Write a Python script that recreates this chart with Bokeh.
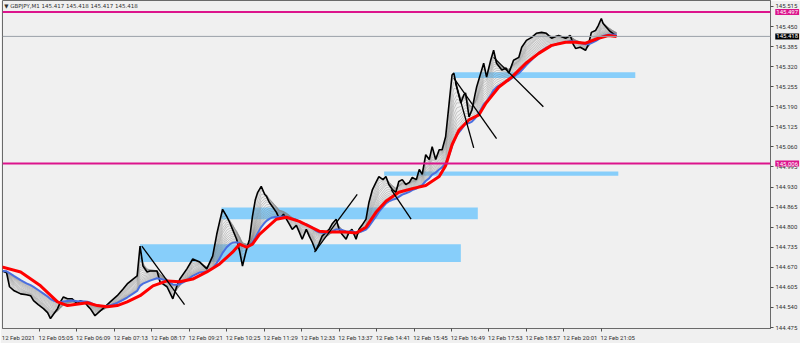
import numpy as np
from bokeh.plotting import figure
from bokeh.layouts import row
from bokeh.models import Range1d, LinearAxis, FixedTicker, Span, Label, NumeralTickFormatter
from bokeh.embed import file_html
from bokeh.resources import INLINE

# ---------------- data (minutes after 12 Feb 04:01, price) ----------------
price_time = [1, 8, 13, 21, 32, 42, 49, 54, 62, 71, 78, 83, 90, 95, 100, 105, 112, 120, 129, 134,
              142, 146, 151, 159, 168, 176, 185, 197, 207, 214, 224, 231, 236, 241, 248, 253, 265, 270, 282, 292,
              299, 304, 316, 326, 338, 350, 360, 367, 372, 377, 384, 389, 394, 401, 406, 411, 418, 423, 428, 433,
              437, 443, 449, 452, 457, 462, 469, 474, 481, 486, 491, 496, 503, 508, 513, 520, 525, 530, 536, 542,
              547, 554, 559, 564, 571, 576, 581, 588, 593, 598, 605, 610, 615, 622, 627, 633, 639, 644, 651, 656,
              661, 667, 673, 678, 684, 690, 696, 701, 708, 713, 718, 724, 730, 735, 741, 747, 752, 758, 764, 769,
              772, 777, 784, 789, 792, 798, 803, 808, 811, 818, 823, 828, 835, 840, 845, 854, 861, 866, 874, 883,
              888, 896, 905, 913, 922, 930, 939, 946, 951, 963, 971, 976, 980, 988, 997, 1002, 1007, 1014, 1019, 1024,
              1027, 1033, 1039, 1048, 1050]
price_close = [144.658, 144.652, 144.607, 144.594, 144.584, 144.581, 144.578, 144.562, 144.549, 144.536,
               144.523, 144.504, 144.523, 144.536, 144.558, 144.574, 144.568, 144.568, 144.552, 144.562,
               144.555, 144.546, 144.536, 144.513, 144.529, 144.542, 144.558, 144.578, 144.600, 144.616,
               144.632, 144.642, 144.739, 144.674, 144.655, 144.658, 144.658, 144.623, 144.607, 144.568,
               144.610, 144.632, 144.665, 144.697, 144.687, 144.665, 144.706, 144.777, 144.819, 144.858,
               144.835, 144.816, 144.793, 144.761, 144.723, 144.674, 144.729, 144.761, 144.835, 144.890,
               144.913, 144.932, 144.906, 144.900, 144.880, 144.867, 144.848, 144.826, 144.842, 144.826,
               144.810, 144.793, 144.806, 144.784, 144.761, 144.793, 144.771, 144.752, 144.723, 144.748,
               144.771, 144.784, 144.793, 144.810, 144.826, 144.793, 144.777, 144.761, 144.784, 144.793,
               144.761, 144.793, 144.806, 144.826, 144.880, 144.922, 144.945, 144.964, 144.954, 144.964,
               144.938, 144.922, 144.913, 144.948, 144.954, 144.938, 144.945, 144.961, 144.954, 144.987,
               144.971, 145.035, 145.019, 145.061, 145.019, 145.051, 145.051, 145.093, 145.202, 145.293,
               145.299, 145.254, 145.202, 145.228, 145.235, 145.157, 145.180, 145.228, 145.254, 145.299,
               145.331, 145.286, 145.341, 145.373, 145.331, 145.309, 145.315, 145.299, 145.341, 145.350,
               145.383, 145.405, 145.415, 145.428, 145.431, 145.428, 145.412, 145.418, 145.421, 145.412,
               145.421, 145.392, 145.379, 145.383, 145.373, 145.392, 145.431, 145.437, 145.454, 145.476,
               145.460, 145.447, 145.434, 145.421, 145.418]

ma_time = [0, 32, 66, 95, 112, 146, 163, 180, 197, 214, 236, 258, 282, 304, 326, 350, 372, 394, 406, 418,
           428, 440, 457, 469, 486, 508, 525, 542, 564, 588, 605, 622, 639, 656, 678, 701, 724, 747, 758, 769,
           781, 798, 815, 827, 849, 871, 895, 917, 939, 963, 980, 997, 1019, 1036, 1050]
ma_red = [144.671, 144.655, 144.610, 144.558, 144.546, 144.555, 144.546, 144.542, 144.546, 144.558,
          144.578, 144.610, 144.626, 144.623, 144.632, 144.655, 144.681, 144.719, 144.745, 144.735,
          144.745, 144.777, 144.806, 144.826, 144.832, 144.819, 144.803, 144.787, 144.784, 144.784,
          144.781, 144.800, 144.848, 144.884, 144.913, 144.925, 144.935, 144.964, 144.999, 145.067,
          145.115, 145.148, 145.164, 145.202, 145.254, 145.286, 145.331, 145.363, 145.389, 145.399,
          145.399, 145.396, 145.412, 145.421, 145.418]

# zones (rectangles)
zone_left = [236, 375, 653, 772]
zone_right = [784, 813, 1053, 1082]
zone_bottom = [144.687, 144.826, 144.967, 145.283]
zone_top = [144.745, 144.864, 144.980, 145.302]

# trend lines
tl_t0 = [239, 534, 665, 772, 775, 840]
tl_p0 = [144.739, 144.719, 144.922, 145.283, 145.267, 145.350]
tl_t1 = [312, 607, 699, 845, 806, 925]
tl_p1 = [144.549, 144.906, 144.826, 145.087, 145.057, 145.190]

levels = [145.497, 145.006]
bid = 145.418

y_ticks = [144.475, 144.540, 144.605, 144.670, 144.735, 144.800, 144.865, 144.930, 144.995,
           145.060, 145.125, 145.190, 145.255, 145.320, 145.385, 145.450, 145.515]
x_ticks = [0, 64, 128, 192, 256, 320, 384, 448, 512, 576, 640, 704, 768, 832, 896, 960, 1024]
x_labels = ["12 Feb 2021", "12 Feb 05:05", "12 Feb 06:09", "12 Feb 07:13", "12 Feb 08:17",
            "12 Feb 09:21", "12 Feb 10:25", "12 Feb 11:29", "12 Feb 12:33", "12 Feb 13:37",
            "12 Feb 14:41", "12 Feb 15:45", "12 Feb 16:49", "12 Feb 17:53", "12 Feb 18:57",
            "12 Feb 20:01", "12 Feb 21:05"]
title_text = "\u25bc GBPJPY,M1  145.417 145.418 145.417 145.418"

# ---------------- figure ----------------
BG = "#f0f0f0"
MAG = "#dc148c"
XR = Range1d(1, 1313)
YR = Range1d(144.4718, 145.5343)
p = figure(width=800, height=343, output_backend="svg", toolbar_location=None,
           x_range=XR, y_range=YR, x_axis_location=None, y_axis_location=None,
           min_border_left=2, min_border_right=27, min_border_top=0, min_border_bottom=13,
           background_fill_color=BG, border_fill_color=BG)
p.grid.visible = False
p.outline_line_color = "#6a6a6a"
p.outline_line_width = 1

# zones
p.quad(left=zone_left, right=zone_right, bottom=zone_bottom, top=zone_top,
       fill_color="#87cefa", line_color=None)

# horizontal levels
for lv in levels:
    p.add_layout(Span(location=lv, dimension="width", line_color=MAG, line_width=2))
p.add_layout(Span(location=bid, dimension="width", line_color="#9aa0a8", line_width=1))

# ribbon of EMAs of the closes
t = np.array(price_time, dtype=float)
c = np.array(price_close, dtype=float)
def ema(tau):
    out = np.empty_like(c)
    out[0] = c[0]
    for i in range(1, len(c)):
        a = 1 - np.exp(-(t[i] - t[i - 1]) / tau)
        out[i] = out[i - 1] + a * (c[i] - out[i - 1])
    return out
for tau in [3, 5, 7, 9, 11, 13, 15, 18, 21, 24, 27, 30, 33, 36, 39]:
    p.line(t, ema(tau), line_color="#8a8a8a", line_width=0.5, line_alpha=0.85)

# price
p.line(price_time, price_close, line_color="black", line_width=1.6)

# blue and red MAs
p.line(t, ema(42), line_color="#4a6fe0", line_width=2)
p.line(ma_time, ma_red, line_color="#ff0000", line_width=3)

# trend lines
p.segment(x0=tl_t0, y0=tl_p0, x1=tl_t1, y1=tl_p1, line_color="black", line_width=1.3)

# axes
yax = LinearAxis(ticker=FixedTicker(ticks=y_ticks, minor_ticks=[]),
                 formatter=NumeralTickFormatter(format="0.000"),
                 major_tick_out=3, major_tick_in=0, minor_tick_out=0, minor_tick_in=0,
                 major_label_standoff=2, major_label_text_font="Roboto",
                 major_label_text_font_size="6px", major_label_text_color="#303030",
                 axis_line_color="#6a6a6a", major_tick_line_color="#505050")
p.add_layout(yax, "right")

lab_pos = [x + 28 for x in x_ticks]
xax = LinearAxis(ticker=FixedTicker(ticks=lab_pos, minor_ticks=x_ticks),
                 major_label_overrides={lp: s for lp, s in zip(lab_pos, x_labels)},
                 major_tick_out=0, major_tick_in=0, minor_tick_out=3, minor_tick_in=0,
                 major_label_standoff=2, major_label_text_font="Roboto",
                 major_label_text_font_size="6px", major_label_text_color="#303030",
                 axis_line_color="#6a6a6a", minor_tick_line_color="#505050")
p.add_layout(xax, "below")

# title
p.add_layout(Label(x=XR.start + 3, y=YR.end - 0.019, text=title_text, text_color="#303030",
                   text_font="DejaVu Sans", text_font_size="5.5px", text_baseline="middle"))

# overlay strip over the price scale, holding the price boxes
side = figure(width=26, height=343, output_backend="svg", toolbar_location=None,
              x_range=Range1d(0, 1), y_range=YR, x_axis_location=None, y_axis_location=None,
              min_border_left=0, min_border_right=0, min_border_top=0, min_border_bottom=13,
              background_fill_alpha=0, border_fill_alpha=0, margin=(0, 0, 0, -26))
side.grid.visible = False
side.outline_line_color = None
for lv, col in [(levels[0], MAG), (bid, "black"), (levels[1], MAG)]:
    side.add_layout(Label(x=0.03, y=lv, text=f"{lv:.3f}", text_color="white", text_font="Roboto",
                          text_font_size="6px", text_baseline="middle", text_align="left",
                          background_fill_color=col, padding=1))

layout = row(p, side, margin=0)
open("out.html", "w").write(file_html(layout, INLINE))
